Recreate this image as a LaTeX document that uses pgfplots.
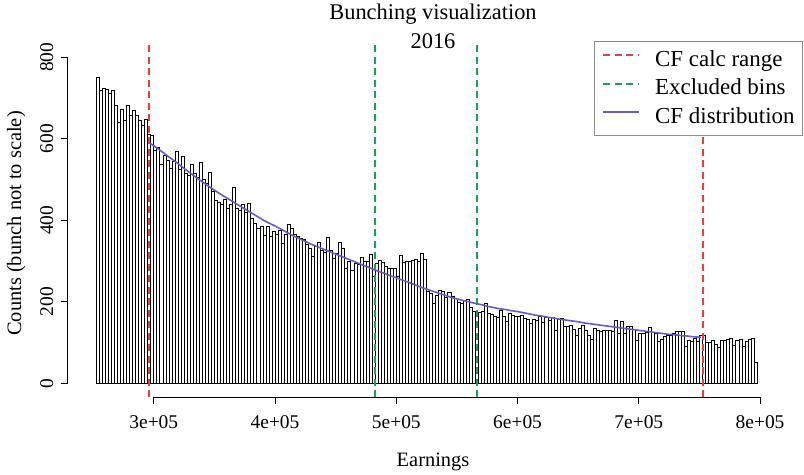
\documentclass[border=0pt]{standalone}
\usepackage{pgfplots}
\pgfplotsset{compat=1.18}
\usepackage{pgfplotstable}
\usepackage{fontspec}
\setmainfont{Liberation Serif}
\definecolor{cfred}{RGB}{232,64,60}
\definecolor{exgreen}{RGB}{30,158,88}
\definecolor{cfpurple}{RGB}{108,90,192}

% bar heights, bins of width 2500 starting at 252500 (last row is the closing edge)
\pgfplotstableread{
y
750
720
724
722
712
718
681
641
672
646
681
658
669
658
646
632
647
611
608
571
579
538
560
548
528
545
570
525
556
515
510
537
515
505
542
500
490
517
470
450
445
440
452
428
438
481
430
425
440
420
442
405
393
380
384
364
386
360
372
365
376
344
365
390
380
366
360
356
352
341
330
311
335
345
325
321
358
327
307
320
345
331
282
298
278
294
293
309
298
298
317
262
294
302
296
286
283
282
282
262
313
296
298
300
302
305
300
319
303
225
221
195
215
227
225
210
222
213
208
198
196
204
206
186
176
166
173
176
196
172
170
163
162
178
165
151
172
166
165
163
167
160
158
147
158
155
163
150
162
154
162
131
157
159
139
139
143
133
118
135
143
131
118
108
135
131
127
131
131
129
128
155
123
151
123
139
139
133
106
123
123
124
137
124
122
102
108
114
118
118
123
127
128
127
91
106
102
110
102
118
118
100
100
106
96
88
106
106
108
109
92
106
108
91
104
108
110
52
0
}\bars

\pgfplotstableread{
x y
296250 590
300000 583
305000 572
310000 561
315000 550
320000 539
325000 527
330000 516
335000 505
340000 494
345000 484
350000 474
355000 464
360000 455
365000 446
370000 437
375000 428
380000 419
385000 410
390000 401
395000 393
400000 386
405000 378
410000 370
415000 362
420000 355
425000 348
430000 341
435000 335
440000 329
445000 323
450000 317
455000 311
460000 305
465000 299
470000 293
475000 287
480000 281
485000 275
490000 270
495000 264
500000 259
505000 253
510000 248
515000 242
520000 236
525000 231
530000 226
535000 221
540000 216
545000 211
550000 207
555000 203
560000 200
565000 196
570000 193
575000 189
580000 186
585000 183
590000 181
595000 178
600000 176
605000 173
610000 170
615000 167
620000 165
625000 162
630000 160
635000 157
640000 155
645000 153
650000 151
655000 148
660000 146
665000 144
670000 142
675000 140
680000 138
685000 136
690000 134
695000 132
700000 130
705000 128
710000 126
715000 124
720000 122
725000 120
730000 119
735000 117
740000 116
745000 114
751250 113
}\cfline

\begin{document}
\begin{tikzpicture}[x=1bp,y=1bp]
\useasboundingbox (0,0) rectangle (804,475);
\begin{axis}[
  at={(67.7bp,77.7bp)}, anchor=south west,
  width=735.3bp, height=356.3bp, scale only axis,
  xmin=229000, xmax=835400, ymin=-34.4, ymax=840,
  clip=false,
  axis x line*=bottom, axis y line*=left,
  axis line style={draw=none},
  tick align=outside, major tick length=7bp,
  tick style={black, line width=0.8bp},
  xtick={300000,400000,500000,600000,700000,800000},
  xticklabels={3e+05,4e+05,5e+05,6e+05,7e+05,8e+05},
  ytick={0,200,400,600,800},
  yticklabels={0,200,400,600,800},
  scaled x ticks=false, scaled y ticks=false,
  xticklabel style={font=\fontsize{19.5}{23}\selectfont, anchor=base, yshift=-24bp},
  yticklabel style={font=\fontsize{19.5}{23}\selectfont, xshift=-7.5bp, rotate=90, anchor=base},
  legend style={at={(1,1)}, anchor=north east, draw=black!45, line width=0.8bp, fill=white,
    font=\fontsize{23}{27}\selectfont, inner xsep=8bp, inner ysep=7.5bp,
    row sep=6bp,
    nodes={inner sep=0pt, text height=17.5bp, text depth=5bp},
    /tikz/every odd column/.append style={column sep=15bp}},
  legend cell align=left,
  legend image code/.code={\draw[#1] (0bp,5bp) -- (36bp,5bp);},
]
\addplot[ybar interval, draw=black, fill=white, line width=0.75bp, forget plot]
  table[x expr=252500+2500*\coordindex, y=y] {\bars};

\addplot[draw=cfred, line width=1.6bp, dash pattern=on 7bp off 4.5bp, forget plot] coordinates {(296000,-34.4) (296000,840)};
\addplot[draw=cfred, line width=1.6bp, dash pattern=on 7bp off 4.5bp, forget plot] coordinates {(753000,-34.4) (753000,840)};
\addplot[draw=exgreen, line width=1.6bp, dash pattern=on 7bp off 4.5bp, forget plot] coordinates {(482500,-34.4) (482500,840)};
\addplot[draw=exgreen, line width=1.6bp, dash pattern=on 7bp off 4.5bp, forget plot] coordinates {(566500,-34.4) (566500,840)};
\addplot[draw=cfpurple, line width=1.6bp, forget plot] table[x=x, y=y] {\cfline};

\addlegendimage{draw=cfred, line width=1.8bp, dash pattern=on 7bp off 4.5bp}
\addlegendentry{CF calc range}
\addlegendimage{draw=exgreen, line width=1.8bp, dash pattern=on 7bp off 4.5bp}
\addlegendentry{Excluded bins}
\addlegendimage{draw=cfpurple, line width=1.8bp}
\addlegendentry{CF distribution}

\draw[black, line width=0.8bp] (axis cs:300000,-34.4) -- (axis cs:800000,-34.4);
\draw[black, line width=0.8bp] (axis cs:229000,0) -- (axis cs:229000,800);
\end{axis}
\node[anchor=base, font=\fontsize{22.5}{27}\selectfont] at (433,455) {Bunching visualization};
\node[anchor=base, font=\fontsize{22.5}{27}\selectfont] at (433,426) {2016};
\node[anchor=base, font=\fontsize{20.5}{24}\selectfont] at (433,8.5) {Earnings};
\node[anchor=base, rotate=90, font=\fontsize{20.5}{24}\selectfont] at (21,251.5) {Counts (bunch not to scale)};
\end{tikzpicture}
\end{document}
